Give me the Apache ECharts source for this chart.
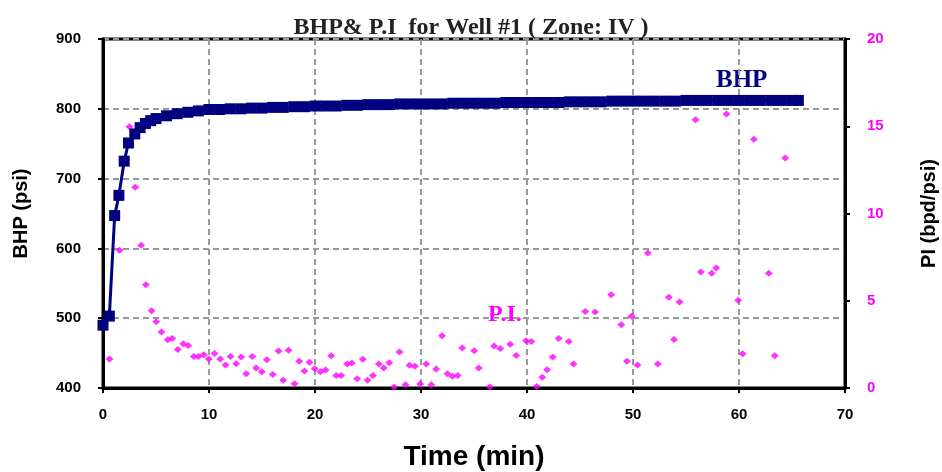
<!DOCTYPE html>
<html>
<head>
<meta charset="utf-8">
<script src="https://cdn.jsdelivr.net/npm/echarts@6/dist/echarts.min.js"></script>
<style>
html,body{margin:0;padding:0;background:#fff;}
#chart{width:942px;height:472px;}
</style>
</head>
<body>
<div id="chart"></div>
<script>
// BHP (psi) vs time (min)
var bhpTime = [0, 0.6, 1.1, 1.5, 2.0, 2.4, 3.0, 3.5, 4.0, 4.5, 5, 6, 7, 8, 9, 10, 11, 12, 13, 14, 15, 16, 17, 18, 19, 20,
  21, 22, 23, 24, 25, 26, 27, 28, 29, 30, 31, 32, 33, 34, 35, 36, 37, 38, 39, 40, 41, 42, 43, 44, 45,
  46, 47, 48, 49, 50, 51, 52, 53, 54, 55, 56, 57, 58, 59, 60, 61, 62, 63, 64, 65, 65.6];
var bhpValues = [490, 503, 647, 676, 725, 751, 764, 773, 779, 783, 786, 790, 793, 795, 797, 799, 799, 800, 800, 801, 801, 802, 802, 803, 803, 804,
  804, 804, 805, 805, 806, 806, 806, 807, 807, 807, 807, 807, 808, 808, 808, 808, 808, 809, 809, 809, 809, 809, 809, 810, 810,
  810, 810, 811, 811, 811, 811, 811, 811, 811, 812, 812, 812, 812, 812, 812, 812, 812, 812, 812, 812, 812];

// P.I (bpd/psi) vs time (min)
var piTime = [0.61, 1.56, 2.50, 3.04, 3.60, 4.04, 4.58, 5.02, 5.52, 6.11, 6.53, 7.06, 7.59, 8.04, 8.57, 9.01, 9.51, 9.98,
  10.52, 11.06, 11.56, 12.03, 12.57, 13.04, 13.51, 14.08, 14.45, 14.98, 15.45, 16.02, 16.56, 17.0, 17.5, 18.07, 18.51,
  19.01, 19.48, 19.98, 20.52, 20.99, 21.53, 22.0, 22.47, 23.04, 23.47, 23.98, 24.51, 24.95, 25.47, 26.02, 26.48, 27.01,
  27.47, 27.97, 28.54, 28.92, 29.43, 29.92, 30.49, 30.97, 31.43, 31.98, 32.5, 32.97, 33.47, 33.89, 35.02, 35.44, 36.5,
  36.9, 37.47, 38.42, 38.98, 39.9, 40.4, 40.92, 41.44, 41.9, 42.43, 42.99, 43.94, 44.39, 45.49, 46.42, 47.94, 48.89,
  49.43, 49.86, 50.42, 51.4, 52.34, 53.38, 53.87, 54.39, 55.9, 56.4, 57.42, 57.85, 58.82, 59.92, 60.35, 61.4, 62.81,
  63.38, 64.36];
var piValues = [1.66, 7.89, 14.97, 11.50, 8.18, 5.91, 4.43, 3.80, 3.21, 2.77, 2.83, 2.20, 2.54, 2.44, 1.81, 1.81, 1.91, 1.66,
  1.97, 1.66, 1.32, 1.81, 1.39, 1.78, 0.82, 1.81, 1.15, 0.93, 1.62, 0.78, 2.12, 0.44, 2.16, 0.25, 1.53,
  0.97, 1.47, 1.11, 0.93, 1.03, 1.85, 0.72, 0.72, 1.38, 1.43, 0.53, 1.65, 0.45, 0.72, 1.38, 1.15, 1.45,
  0.06, 2.06, 0.19, 1.31, 1.25, 0.23, 1.38, 0.19, 1.09, 3.00, 0.81, 0.67, 0.72, 2.29, 2.13, 1.15, 0.06,
  2.40, 2.27, 2.51, 1.86, 2.71, 2.67, 0.09, 0.61, 1.05, 1.78, 2.83, 2.67, 1.38, 4.39, 4.35, 5.35, 3.63,
  1.53, 4.11, 1.32, 7.73, 1.38, 5.20, 2.78, 4.93, 15.37, 6.65, 6.58, 6.87, 15.70, 5.03, 1.96, 14.25, 6.58,
  1.85, 13.18];

var bhpData = bhpTime.map(function (t, i) { return [t, bhpValues[i]]; });
var piData = piTime.map(function (t, i) { return [t, piValues[i]]; });

var sans = "'Liberation Sans', Arial, sans-serif";
var serif = "'Liberation Serif', 'Times New Roman', serif";

var chart = echarts.init(document.getElementById('chart'), null, {renderer: 'canvas'});
chart.setOption({
  backgroundColor: '#fff',
  animation: false,
  title: {
    text: 'BHP& P.I  for Well #1 ( Zone: IV )',
    left: 'center',
    top: 11,
    textStyle: {fontFamily: serif, fontWeight: 'bold', fontSize: 24, color: '#222'}
  },
  grid: {
    left: 103, right: 97, top: 39, bottom: 84,
    containLabel: false, outerBoundsMode: 'none',
    show: true, borderColor: '#000', borderWidth: 3, backgroundColor: '#fff'
  },
  xAxis: {
    type: 'value', min: 0, max: 70, interval: 10,
    name: 'Time (min)', nameLocation: 'middle', nameGap: 55,
    nameTextStyle: {fontFamily: sans, fontWeight: 'bold', fontSize: 28, color: '#000'},
    axisLine: {show: true, onZero: false, lineStyle: {color: '#000', width: 3}},
    axisTick: {show: true, inside: false, length: 5, lineStyle: {color: '#000', width: 2}},
    axisLabel: {fontFamily: sans, fontWeight: 'bold', fontSize: 15, color: '#000', margin: 19},
    splitLine: {show: true, lineStyle: {color: '#999', type: [6, 4], width: 2}}
  },
  yAxis: [{
    type: 'value', min: 400, max: 900, interval: 100, position: 'left',
    name: 'BHP (psi)', nameLocation: 'middle', nameGap: 72,
    nameTextStyle: {fontFamily: sans, fontWeight: 'bold', fontSize: 20, color: '#000'},
    axisLine: {show: true, lineStyle: {color: '#000', width: 3}},
    axisTick: {show: true, inside: false, length: 5, lineStyle: {color: '#000', width: 2}},
    axisLabel: {fontFamily: sans, fontWeight: 'bold', fontSize: 15, color: '#000', margin: 22},
    splitLine: {show: true, lineStyle: {color: '#999', type: [6, 4], width: 2}}
  }, {
    type: 'value', min: 0, max: 20, interval: 5, position: 'right',
    name: 'PI (bpd/psi)', nameLocation: 'middle', nameGap: 74,
    nameTextStyle: {fontFamily: sans, fontWeight: 'bold', fontSize: 20, color: '#000'},
    axisLine: {show: true, lineStyle: {color: '#000', width: 3}},
    axisTick: {show: true, inside: false, length: 5, lineStyle: {color: '#000', width: 2}},
    axisLabel: {fontFamily: sans, fontWeight: 'bold', fontSize: 15, color: '#FF00FF', margin: 22},
    splitLine: {show: false}
  }],
  series: [{
    name: 'P.I', type: 'scatter', yAxisIndex: 1,
    symbol: 'diamond', symbolSize: [8, 7],
    itemStyle: {color: '#FF00FF'},
    data: piData, z: 2
  }, {
    name: 'BHP', type: 'line', yAxisIndex: 0,
    symbol: 'rect', symbolSize: 11, showSymbol: true,
    lineStyle: {color: '#000080', width: 3},
    itemStyle: {color: '#000080'},
    data: bhpData, z: 3
  }],
  graphic: [{
    type: 'text', left: 716, top: 68,
    style: {text: 'BHP', fill: '#000080', font: 'bold 25px ' + serif}
  }, {
    type: 'text', left: 488, top: 303,
    style: {text: 'P.I.', fill: '#FF00FF', font: 'bold 24px ' + serif}
  }]
});
</script>
</body>
</html>
